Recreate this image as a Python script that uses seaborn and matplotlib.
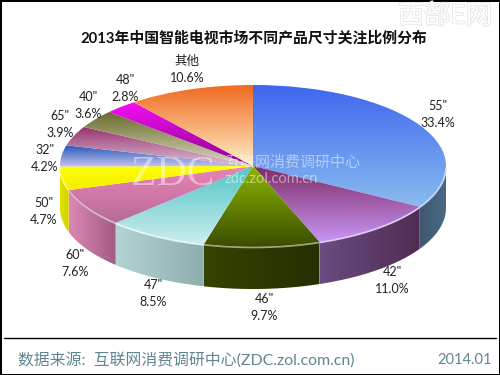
import numpy as np
import matplotlib
matplotlib.use('Agg')
import matplotlib.pyplot as plt
import matplotlib.patheffects as pe
from matplotlib.patches import Polygon
import seaborn as sns

sizes = ['55"', '42"', '46"', '47"', '60"', '50"', '32"', '65"', '40"', '48"', '其他']
shares = [33.4, 11.0, 9.7, 8.5, 7.6, 4.7, 4.2, 3.9, 3.6, 2.8, 10.6]
title = '2013年中国智能电视市场不同产品尺寸关注比例分布'
source = '数据来源:  互联网消费调研中心(ZDC.zol.com.cn)'
date = '2014.01'

# gradient of the top face, top colour then bottom colour
top_colors = [('#3f66ee', '#8abcf0'), ('#7e2a62', '#c795f5'), ('#8fb800', '#3a4d00'),
              ('#4fc4c6', '#cdeeee'), ('#e884b8', '#b76c98'), ('#ffff00', '#f4ee00'),
              ('#2457b8', '#c8c4f0'), ('#96306e', '#dcc0d4'), ('#6c6c2c', '#d8d8c0'),
              ('#f410f4', '#8c008c'), ('#f06a20', '#fff0c8')]
# side wall, left colour then right colour
wall_colors = {0: ('#3f5870', '#4a6a84'), 1: ('#6a4c80', '#4e2c52'), 2: ('#344400', '#243000'),
               3: ('#b4d4d4', '#8eaeae'), 4: ('#dc88b4', '#a05c84'), 5: ('#e4e400', '#d0d000')}
# label centres in pixels
label_pos = [(438, 106), (392, 272), (264, 299), (153, 285), (75, 255), (44, 203),
             (45, 150), (60, 116), (88, 97), (125, 80), (187, 61)]

cx, cy, rx, ry, depth = 253, 166, 193, 81, 42
W, H = 500, 375


def px(x, y):
    return (x - cx) / rx, (cy - y) / ry


sns.set_theme(style='white')
plt.rcParams['font.family'] = ['Lato', 'Noto Sans CJK SC', 'DejaVu Sans']

fig = plt.figure(figsize=(5, 3.75), dpi=100, facecolor='white')
ax = fig.add_axes([0, 0, 1, 1])
wedges, _ = ax.pie(shares, startangle=90, counterclock=False, radius=1, colors=['none'] * len(shares),
                   normalize=True, wedgeprops={'linewidth': 0})
ax.set_aspect('auto')
dz = depth / ry

# side walls
for i, w in enumerate(wedges):
    if i not in wall_colors:
        continue
    t = np.radians(np.linspace(w.theta1, w.theta2, 200))
    t = t[np.sin(t) <= 0]
    if len(t) < 2:
        continue
    xs, ys = np.cos(t), np.sin(t)
    poly = Polygon(np.r_[np.c_[xs, ys], np.c_[xs, ys - dz][::-1]], closed=True, fc='none', ec='none')
    ax.add_patch(poly)
    cmap = sns.blend_palette(wall_colors[i], as_cmap=True)
    im = ax.imshow(np.linspace(0, 1, 256)[None, :], cmap=cmap, aspect='auto', zorder=1,
                   extent=(xs.min(), xs.max(), ys.min() - dz, ys.max()))
    im.set_clip_path(poly)

# top face
for w, pair in zip(wedges, top_colors):
    v = w.get_path().vertices
    cmap = sns.blend_palette(pair, as_cmap=True)
    im = ax.imshow(np.linspace(0, 1, 256)[:, None], cmap=cmap, aspect='auto', zorder=2,
                   extent=(v[:, 0].min(), v[:, 0].max(), v[:, 1].min(), v[:, 1].max()))
    im.set_clip_path(w)
    t = np.radians(np.linspace(w.theta1, w.theta2, 100))
    t = t[np.sin(t) <= 0]
    if len(t) > 1:
        rim = sns.blend_palette([pair[1], 'white'], 3)[1]
        ax.plot(np.cos(t), np.sin(t) - 0.006, color=rim, lw=1.2, zorder=3, solid_capstyle='butt')

ax.set_xlim(*sorted((px(0, 0)[0], px(W, 0)[0])))
ax.set_ylim(px(0, H)[1], px(0, 0)[1])
ax.axis('off')

# labels
for name, share, (x, y) in zip(sizes, shares, label_pos):
    ax.text(*px(x, y), name, ha='center', va='center', fontsize=9, color='#222222', zorder=6)
    ax.text(*px(x, y + 17), f'{share}%', ha='center', va='center', fontsize=9, color='#222222', zorder=6)

ax.text(*px(254, 38), title, ha='center', va='center', fontsize=10.7, fontweight='bold',
        color='#111111', zorder=6)

# watermarks
ax.text(*px(173, 175), 'ZDC', ha='center', va='center', fontsize=30, family='Liberation Serif',
        color='white', alpha=0.45, zorder=5)
ax.text(*px(293, 163), '互联网消费调研中心', ha='center', va='center', fontsize=10.8,
        color='white', alpha=0.5, zorder=5)
ax.text(*px(271, 179), 'zdc.zol.com.cn', ha='center', va='center', fontsize=10.5,
        color='white', alpha=0.5, zorder=5)
ax.text(*px(492, 16), '西部E网', ha='right', va='center', fontsize=19, color='white', zorder=5,
        path_effects=[pe.withStroke(linewidth=1.2, foreground='#e4e4e4')])

# footer
ax.plot(*zip(px(4, 338), px(496, 338)), color='black', lw=1, zorder=6)
ax.text(*px(18, 360), source, ha='left', va='center', fontsize=11.4, color='#5f8690', zorder=6)
ax.text(*px(492, 360), date, ha='right', va='center', fontsize=10.5, color='#5f8690', zorder=6)

fig.patch.set_edgecolor('black')
fig.patch.set_linewidth(2)
fig.savefig('out.png', dpi=100, facecolor='white', edgecolor='black')
